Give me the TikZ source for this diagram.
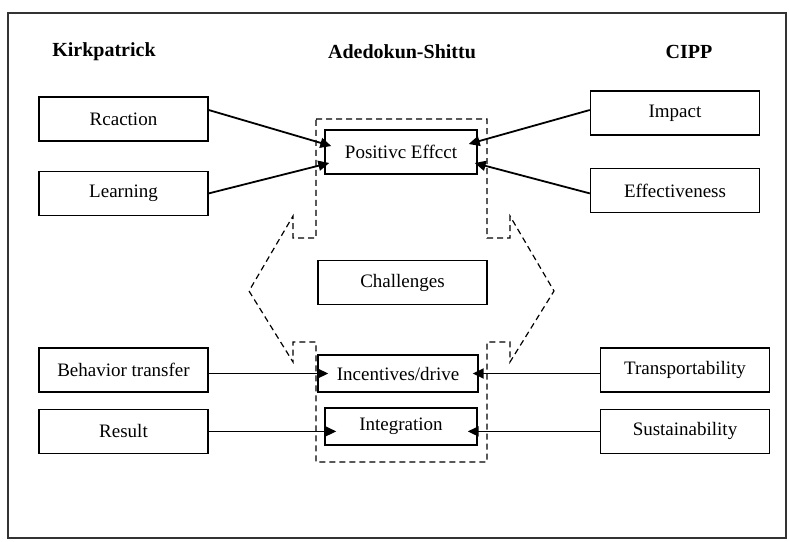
\documentclass[tikz,border=0pt]{standalone}
\usepackage{fontspec}
\setmainfont{Liberation Serif}
\usetikzlibrary{positioning,arrows.meta}
\tikzset{>={Triangle[length=5.5pt,width=5pt]}}
\tikzset{box/.style={draw,line width=0.7pt,minimum width=84.5pt,minimum height=22pt,inner sep=0pt,font=\fontsize{9.5}{11}\selectfont}}
\tikzset{core/.style={box,minimum width=76pt}}
\tikzset{lowcore/.style={core,minimum height=18.5pt}}
\tikzset{title/.style={font=\fontsize{10}{12}\selectfont\bfseries}}
\tikzset{link/.style={->,line width=0.9pt}}
\tikzset{frontier/.style={line width=0.6pt,dash pattern=on 3pt off 2pt}}

\begin{document}
\begin{tikzpicture}[x=0.5pt,y=-0.5pt]
        \useasboundingbox (0,0) rectangle (789,542);
        \draw[black!80,line width=0.6pt] (8,13) rectangle (786,538);
        \node[title] (kirk) at (104,52) {Kirkpatrick};
        \node[title] (ades) at (402,52) {Adedokun-Shittu};
        \node[title] (cipp) at (689,52) {CIPP};
        \draw[frontier] (316,119) -- (487,119) -- (487,238) -- (510,238) -- (510,216) -- (554,291) -- (510,362) -- (510,342) -- (487,342) -- (487,462) -- (316,462) -- (316,342) -- (293,342) -- (293,362) -- (249,291) -- (293,216) -- (293,238) -- (316,238) -- cycle;
        \node[core] (positive) at (401,152) {Positivc Effcct};
        \node[box] (challenges) at (402.5,282.5) {Challenges};
        \node[lowcore,minimum width=80pt] (incentives) at (398,373.5) {Incentives/drive};
        \node[lowcore] (integration) at (401,426.5) {Integration};
        \node[box] (reaction) at (123.5,119) {Rcaction};
        \node[box,below=14.5pt of reaction] (learning) {Learning};
        \node[box] (behavior) at (123.5,370) {Behavior transfer};
        \node[box,below=8pt of behavior] (result) {Result};
        \node[box] (impact) at (675,113) {Impact};
        \node[box,below=16pt of impact] (effective) {Effectiveness};
        \node[box] (transport) at (685,370) {Transportability};
        \node[box,below=8pt of transport] (sustain) {Sustainability};
            \path[draw,link] ([yshift=4.5pt]reaction.east) -- ([xshift=3.5pt,yshift=3pt]positive.west);
            \path[draw,link] (learning.east) -- ([xshift=2.5pt,yshift=-5.5pt]positive.west);
            \path[draw,link] ([yshift=1.5pt]impact.west) -- ([xshift=-4.5pt,yshift=4pt]positive.east);
            \path[draw,link] ([yshift=-1.5pt]effective.west) -- ([xshift=-1.5pt,yshift=-5.5pt]positive.east);
            \path[draw,link,shorten >=-5.5pt] (behavior.east |- incentives) -- (incentives.west);
            \path[draw,link,shorten >=-6pt] (result.east) -- (result.east -| integration.west);
            \path[draw,link,shorten >=-3pt] (transport.west |- incentives) -- (incentives.east);
            \path[draw,link,shorten >=-5pt] (sustain.west) -- (sustain.west -| integration.east);
\end{tikzpicture}
\end{document}
